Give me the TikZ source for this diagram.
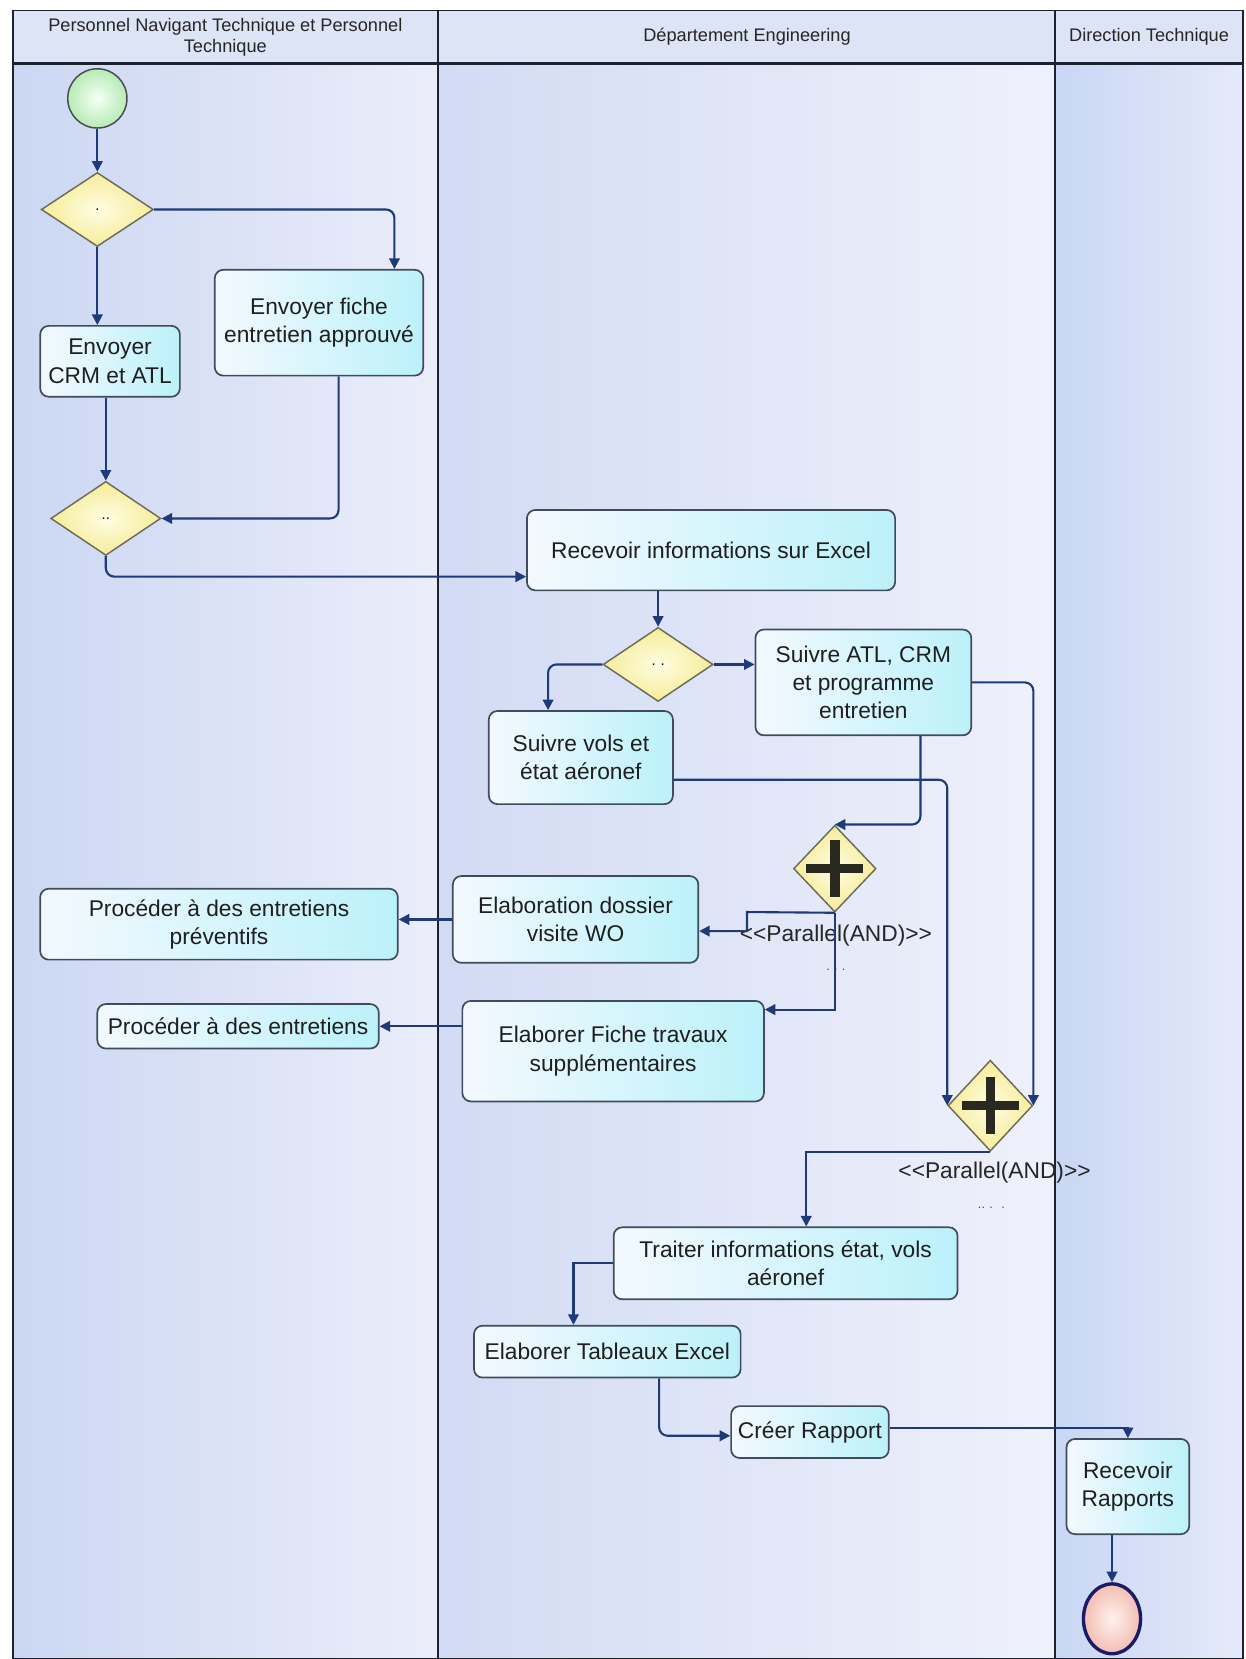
\documentclass[tikz,border=0pt]{standalone}
\usepackage{fontspec}
\newfontfamily\af{Liberation Sans}
\usetikzlibrary{shapes.geometric,arrows.meta,calc}

\definecolor{flowc}{HTML}{1E3A78}
\definecolor{boxline}{HTML}{3E4C5C}
\definecolor{boxl}{HTML}{F3F9FE}
\definecolor{boxr}{HTML}{BCF1FA}
\definecolor{gwin}{HTML}{FFFDE2}
\definecolor{gwout}{HTML}{F5EC98}
\definecolor{gwline}{HTML}{6E6C5A}
\definecolor{laneline}{HTML}{1C2230}
\definecolor{headbg}{HTML}{DDE4F6}
\definecolor{laneA}{HTML}{CBD7F2}
\definecolor{laneB}{HTML}{EBEDFA}
\definecolor{laneC}{HTML}{D2DBF4}
\definecolor{laneD}{HTML}{EFF1FB}
\definecolor{laneE}{HTML}{C8D7F4}
\definecolor{laneF}{HTML}{E6E9F9}
\definecolor{startin}{HTML}{F6FFF6}
\definecolor{startout}{HTML}{B6EBB6}
\definecolor{endin}{HTML}{FFF2EE}
\definecolor{endout}{HTML}{F3BDB2}
\definecolor{endline}{HTML}{1A1A66}
\definecolor{plusc}{HTML}{2A2920}

\begin{document}
\begin{tikzpicture}[x=0.5pt,y=-0.5pt,
  task/.style={draw=boxline, line width=0.8pt, rounded corners=4pt,
    left color=boxl, right color=boxr, align=center, inner sep=0pt,
    font=\af\fontsize{10.75pt}{13.3pt}\selectfont, text=black!88},
  gate/.style={diamond, draw=gwline, line width=0.7pt, inner color=gwin,
    outer color=gwout, inner sep=0pt, font=\af\fontsize{7pt}{8pt}\selectfont},
  plusbar/.style={draw=plusc, line width=4.5pt},
  flow/.style={draw=flowc, line width=1pt, -{Triangle[length=5pt,width=5pt]}},
  lanehead/.style={font=\af\fontsize{8.6pt}{10pt}\selectfont, align=center, text=black!85},
  annot/.style={font=\af\fontsize{10.75pt}{13pt}\selectfont, text=black!85, inner sep=0pt},
  dots/.style={font=\af\fontsize{6pt}{7pt}\selectfont, text=black!70, inner sep=0pt},
]
\useasboundingbox (0,0) rectangle (1177,1568);
\fill[white] (0,0) rectangle (1177,1568);

% swimlanes
\fill[headbg] (12,10) rectangle (1175,60);
\fill[left color=laneA, right color=laneB] (12,60) rectangle (414,1568);
\fill[left color=laneC, right color=laneD] (414,60) rectangle (997,1568);
\fill[left color=laneE, right color=laneF] (997,60) rectangle (1175,1568);
\draw[laneline, line width=0.8pt] (12,10) rectangle (1175,1568);
\draw[laneline, line width=1.2pt] (12,60) -- (1175,60);
\draw[laneline, line width=0.8pt] (414,10) -- (414,1568);
\draw[laneline, line width=0.8pt] (997,10) -- (997,1568);

\node[lanehead] (h1) at (213,35) {Personnel Navigant Technique et Personnel\\Technique};
\node[lanehead] (h2) at (706,35) {Département Engineering};
\node[lanehead] (h3) at (1086,35) {Direction Technique};

% events
\node[circle, draw=black!70, line width=0.7pt, inner color=startin, outer color=startout,
  minimum size=28pt, inner sep=0pt] (start) at (92,93) {};
\node[ellipse, draw=endline, line width=1.6pt, inner color=endin, outer color=endout,
  minimum width=27pt, minimum height=33pt, inner sep=0pt] (end) at (1051,1530) {};

% gateways
\node[gate, minimum width=53pt, minimum height=35pt] (d1) at (92,198) {.};
\node[gate, minimum width=52pt, minimum height=35pt] (d2) at (100,490) {..};
\node[gate, minimum width=52pt, minimum height=35pt] (d3) at (622,628) {.\,\,.};
\node[gate, minimum width=39pt, minimum height=41pt] (g1) at (789,821) {};
\node[gate, minimum width=40pt, minimum height=43pt] (g2) at (936,1045) {};
\foreach \g in {g1,g2}{
  \draw[plusbar] ([yshift=13.5pt]\g.center) -- ([yshift=-13.5pt]\g.center);
  \draw[plusbar] ([xshift=-13.5pt]\g.center) -- ([xshift=13.5pt]\g.center);
}
\node[annot] (p1) at (790,884) {<\kern0pt<Parallel(AND)>\kern0pt>};
\node[dots] (q1) at (790,917) {.\,\,.\,\,.};
\node[annot] (p2) at (940,1108) {<\kern0pt<Parallel(AND)>\kern0pt>};
\node[dots] (q2) at (937,1142) {..\,\,.\,\,\,\,.};

% tasks
\node[task, minimum width=98.5pt, minimum height=50pt] (fiche) at (301.5,305) {Envoyer fiche\\entretien approuvé};
\node[task, minimum width=66pt, minimum height=33.5pt] (crm) at (104,341.5) {Envoyer\\CRM et ATL};
\node[task, minimum width=174pt, minimum height=38pt] (recv) at (672,520) {Recevoir informations sur Excel};
\node[task, minimum width=102pt, minimum height=50pt] (atl) at (816,645) {Suivre ATL, CRM\\et programme\\entretien};
\node[task, minimum width=87pt, minimum height=44pt] (vols) at (549,716) {Suivre vols et\\état aéronef};
\node[task, minimum width=116pt, minimum height=41pt] (wo) at (544,869) {Elaboration dossier\\visite WO};
\node[task, minimum width=169pt, minimum height=33.5pt] (prev) at (207,873.5) {Procéder à des entretiens\\préventifs};
\node[task, minimum width=142.5pt, minimum height=47.5pt] (fiche2) at (579.5,993.5) {Elaborer Fiche travaux\\supplémentaires};
\node[task, minimum width=133pt, minimum height=21pt] (ent) at (225,970) {Procéder à des entretiens};
\node[task, minimum width=162.5pt, minimum height=34pt] (traiter) at (742.5,1194) {Traiter informations état, vols\\aéronef};
\node[task, minimum width=126pt, minimum height=24.5pt] (tab) at (574,1277.5) {Elaborer Tableaux Excel};
\node[task, minimum width=74.5pt, minimum height=24.5pt] (creer) at (765.5,1353.5) {Créer Rapport};
\node[task, minimum width=58pt, minimum height=45pt] (rr) at (1066,1405) {Recevoir\\Rapports};

% sequence flows
\draw[flow] (start.south) -- (d1.north);
\draw[flow, rounded corners=4pt] (d1.east) -| ([xshift=-14pt]fiche.north east);
\draw[flow] (d1.south) -- (d1.south |- crm.north);
\draw[flow] (d2.north |- crm.south) -- (d2.north);
\draw[flow, rounded corners=4pt] ([xshift=9.25pt]fiche.south) |- (d2.east);
\draw[flow, rounded corners=4pt] (d2.south) |- ([yshift=-12.5pt]recv.west);
\draw[flow] (d3.north |- recv.south) -- (d3.north);
\draw[flow] (d3.east) -- (d3.east -| atl.west);
\draw[flow, rounded corners=4pt] (d3.west) -| ([xshift=-15.5pt]vols.north);
\draw[flow, rounded corners=4pt] ([yshift=-10.5pt]vols.east) -| (g2.west);
\draw[flow, rounded corners=4pt] (atl.east) -| (g2.east);
\draw[flow, rounded corners=4pt] ([xshift=27pt]atl.south) |- (g1.north);
\coordinate (j1) at (706,862);
\draw[flow] (g1.south) -- (j1) |- ([yshift=-5.5pt]wo.east);
\draw[flow] (g1.south) |- ([yshift=-4.5pt]fiche2.north east);
\draw[flow] (wo.west) -- (wo.west -| prev.east);
\draw[flow] (ent.east -| fiche2.west) -- (ent.east);
\draw[flow] (g2.south) -| ([xshift=9.75pt]traiter.north);
\draw[flow] (traiter.west) -| ([xshift=-16pt]tab.north);
\draw[flow, rounded corners=4pt] ([xshift=24.5pt]tab.south) |- ([yshift=-1.75pt]creer.west);
\draw[flow] ([yshift=2pt]creer.east) -| (rr.north);
\draw[flow] (end.north |- rr.south) -- (end.north);
\end{tikzpicture}
\end{document}
